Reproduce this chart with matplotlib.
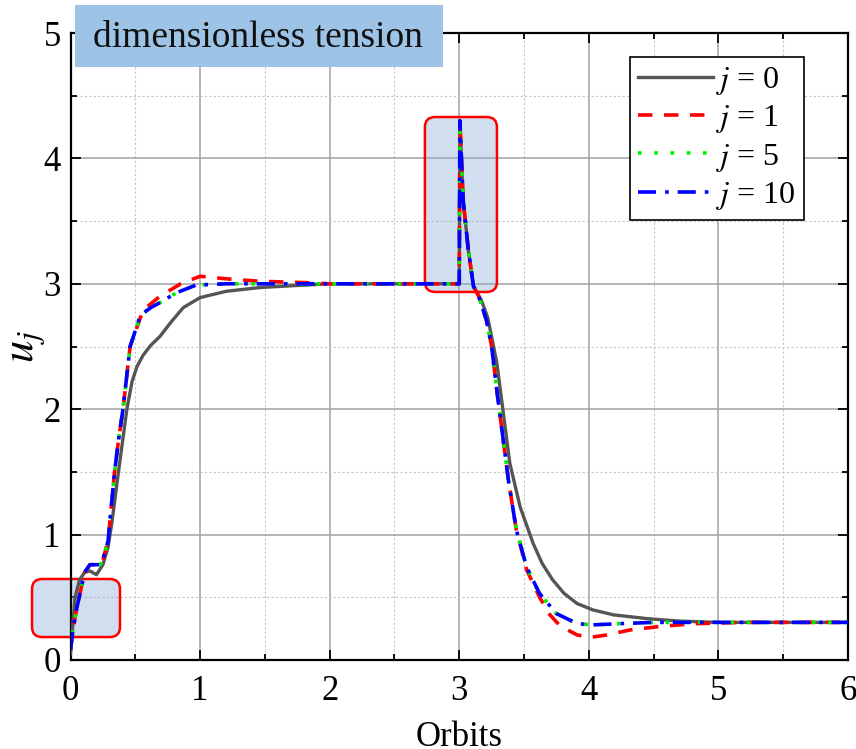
"""
Dimensionless tension u_j versus orbits for several j.
"""
import numpy as np
import matplotlib
matplotlib.use('Agg')
import matplotlib.pyplot as plt
from matplotlib.patches import FancyBboxPatch, Rectangle
from matplotlib.ticker import MultipleLocator

plt.rcParams['font.family'] = ['Liberation Serif', 'DejaVu Serif']
plt.rcParams['mathtext.fontset'] = 'stix'

# values
x_j0 = [0, 0.035, 0.07, 0.11, 0.15, 0.2, 0.25, 0.29, 0.32, 0.37, 0.435, 0.475, 0.513, 0.56,
        0.62, 0.69, 0.78, 0.87, 1.0, 1.2, 1.46, 1.72, 2.0, 2.5, 2.9, 3.0, 3.005, 3.03, 3.07,
        3.11, 3.17, 3.22, 3.29, 3.34, 3.39, 3.47, 3.57, 3.64, 3.72, 3.81, 3.91, 4.03, 4.19,
        4.45, 4.7, 5.0, 5.5, 6.0]
u_j0 = [0.05, 0.5, 0.64, 0.70, 0.71, 0.68, 0.76, 0.9, 1.1, 1.5, 2.0, 2.22, 2.34, 2.43,
        2.51, 2.58, 2.70, 2.81, 2.89, 2.94, 2.97, 2.985, 3.0, 3.0, 3.0, 3.0, 4.3, 3.67, 3.27,
        2.98, 2.87, 2.73, 2.37, 1.97, 1.57, 1.22, 0.93, 0.77, 0.64, 0.53, 0.45, 0.40, 0.36,
        0.33, 0.31, 0.30, 0.30, 0.30]

x_j1 = [0, 0.02, 0.05, 0.09, 0.11, 0.15, 0.23, 0.25, 0.29, 0.34, 0.37, 0.405, 0.46, 0.56,
        0.69, 0.85, 1.0, 1.2, 1.46, 1.8, 2.0, 2.5, 2.9, 3.0, 3.005, 3.03, 3.07, 3.11, 3.15,
        3.21, 3.25, 3.29, 3.33, 3.38, 3.44, 3.52, 3.62, 3.70, 3.78, 3.91, 4.01, 4.14, 4.32,
        4.57, 4.83, 5.2, 5.6, 6.0]
u_j1 = [0.08, 0.25, 0.42, 0.61, 0.70, 0.76, 0.76, 0.80, 0.95, 1.5, 1.75, 2.0, 2.5, 2.79,
        2.9, 3.0, 3.06, 3.04, 3.02, 3.01, 3.0, 3.0, 3.0, 3.0, 4.3, 3.67, 3.27, 2.98, 2.9,
        2.71, 2.5, 2.15, 1.83, 1.43, 1.04, 0.72, 0.50, 0.36, 0.27, 0.20, 0.18, 0.20, 0.24,
        0.27, 0.29, 0.30, 0.30, 0.30]

x_j5 = [0, 0.02, 0.05, 0.09, 0.11, 0.15, 0.23, 0.25, 0.29, 0.34, 0.37, 0.405, 0.46, 0.54,
        0.62, 0.69, 0.82, 0.97, 1.2, 1.5, 2.0, 2.5, 2.9, 3.0, 3.005, 3.03, 3.07, 3.11, 3.15,
        3.21, 3.25, 3.29, 3.33, 3.38, 3.44, 3.52, 3.62, 3.75, 3.91, 4.03, 4.24, 4.5, 5.0,
        5.5, 6.0]
u_j5 = [0.08, 0.25, 0.42, 0.61, 0.70, 0.76, 0.76, 0.80, 0.95, 1.5, 1.75, 2.0, 2.5, 2.75,
        2.81, 2.85, 2.93, 2.99, 3.0, 3.0, 3.0, 3.0, 3.0, 3.0, 4.3, 3.67, 3.27, 2.98, 2.9,
        2.71, 2.5, 2.15, 1.83, 1.43, 1.04, 0.74, 0.53, 0.37, 0.29, 0.28, 0.29, 0.30, 0.30,
        0.30, 0.30]

x_j10 = [0, 0.02, 0.05, 0.09, 0.11, 0.15, 0.23, 0.25, 0.29, 0.34, 0.37, 0.405, 0.46, 0.54,
         0.62, 0.69, 0.82, 0.97, 1.2, 1.5, 2.0, 2.5, 2.9, 3.0, 3.005, 3.03, 3.07, 3.11, 3.15,
         3.21, 3.25, 3.29, 3.33, 3.38, 3.44, 3.52, 3.62, 3.75, 3.91, 4.03, 4.24, 4.5, 5.0,
         5.5, 6.0]
u_j10 = [0.08, 0.25, 0.42, 0.61, 0.70, 0.76, 0.76, 0.80, 0.95, 1.5, 1.75, 2.0, 2.5, 2.75,
         2.81, 2.85, 2.93, 2.99, 3.0, 3.0, 3.0, 3.0, 3.0, 3.0, 4.3, 3.67, 3.27, 2.98, 2.9,
         2.71, 2.5, 2.15, 1.83, 1.43, 1.04, 0.74, 0.53, 0.37, 0.29, 0.28, 0.29, 0.30, 0.30,
         0.30, 0.30]

labels = [r'$j$ = 0', r'$j$ = 1', r'$j$ = 5', r'$j$ = 10']

# highlighted regions (x0, x1, y0, y1) in data units
boxes = [(-0.297, 0.382, 0.183, 0.646), (2.735, 3.291, 2.935, 4.33)]

fig = plt.figure(figsize=(8.56, 7.49), dpi=100)
ax = fig.add_axes([70.5/856, 89/749, 777.5/856, 627/749])

ax.plot(x_j0, u_j0, color='#555555', lw=2.4, ls='-', label=labels[0], zorder=3)
ax.plot(x_j1, u_j1, color='red', lw=2.6, ls=(0, (4, 3.2)), label=labels[1], zorder=4)
ax.plot(x_j5, u_j5, color='#00ee00', lw=2.6, ls=(0, (1, 3.5)), label=labels[2], zorder=5)
ax.plot(x_j10, u_j10, color='blue', lw=2.6, ls=(0, (5, 2.5, 1, 2.5)), label=labels[3], zorder=6)

for (bx0, bx1, by0, by1) in boxes:
    p = FancyBboxPatch((bx0, by0), bx1 - bx0, by1 - by0,
                       boxstyle='round,pad=0,rounding_size=0.08',
                       fc=(0.55, 0.68, 0.85, 0.4), ec='red', lw=1.8,
                       clip_on=False, zorder=2.5)
    ax.add_patch(p)

ax.set_xlim(0, 6)
ax.set_ylim(0, 5)
ax.xaxis.set_major_locator(MultipleLocator(1))
ax.yaxis.set_major_locator(MultipleLocator(1))
ax.xaxis.set_minor_locator(MultipleLocator(0.5))
ax.yaxis.set_minor_locator(MultipleLocator(0.5))
ax.grid(which='major', color='#a0a0a0', lw=1.1, ls='-')
ax.grid(which='minor', color='#c4c4c4', lw=0.8, ls=(0, (2, 2)))
ax.set_axisbelow(True)
ax.tick_params(which='both', direction='in', top=True, right=True, labelsize=25,
               width=1.3)
ax.tick_params(which='major', length=7)
ax.tick_params(axis='x', which='major', pad=11)
ax.tick_params(axis='y', which='major', pad=7)
ax.tick_params(which='minor', length=4)
for s in ax.spines.values():
    s.set_linewidth(1.6)

ax.set_xlabel('Orbits', fontsize=25, labelpad=9)
ax.set_ylabel(r'$u_j$', fontsize=32)
ax.yaxis.set_label_coords(-0.03, 0.5)

leg = ax.legend(loc='upper right', bbox_to_anchor=(0.943, 0.962), fontsize=23,
                fancybox=False, edgecolor='black', framealpha=1, handlelength=2.35,
                handletextpad=0.1, borderpad=0.25, labelspacing=0.2,
                borderaxespad=0)
leg.get_frame().set_linewidth(1.2)

# title box at the top left
fig.patches.append(Rectangle((75/856, 1 - 67/749), 368/856, 62/749,
                             transform=fig.transFigure, fc='#9dc3e6', ec='none',
                             zorder=10))
fig.text(258/856, 1 - 38/749, 'dimensionless tension', fontsize=27,
         ha='center', va='center', color='#111111', zorder=11)

fig.savefig('out.png', dpi=100)
